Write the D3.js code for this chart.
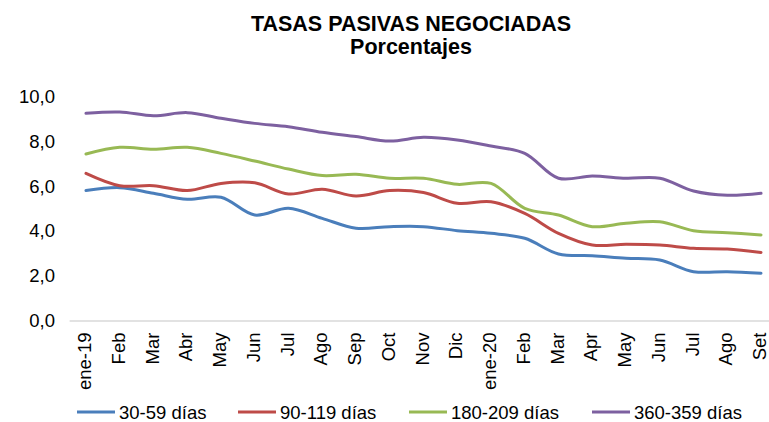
<!DOCTYPE html>
<html>
<head>
<meta charset="utf-8">
<script src="https://cdn.jsdelivr.net/npm/d3@7"></script>
<style>
  html, body { margin: 0; padding: 0; background: #fff; }
  svg { display: block; font-family: "Liberation Sans", Arial, sans-serif; }
</style>
</head>
<body>
<svg id="chart" width="769" height="422"></svg>
<script>
// Meses (ene-2019 a set-2020)
const categories = ["ene-19", "Feb", "Mar", "Abr", "May", "Jun", "Jul", "Ago", "Sep", "Oct", "Nov", "Dic",
                    "ene-20", "Feb ", "Mar ", "Apr", "May ", "Jun ", "Jul ", "Ago ", "Set"];

// Tasas por plazo (%)
const tasa30_59   = [5.80, 5.93, 5.68, 5.41, 5.50, 4.71, 5.01, 4.56, 4.12, 4.19, 4.19, 4.01, 3.89, 3.67, 2.97, 2.89, 2.78, 2.70, 2.18, 2.18, 2.11];
const tasa90_119  = [6.57, 6.02, 6.02, 5.80, 6.12, 6.15, 5.65, 5.86, 5.56, 5.80, 5.71, 5.23, 5.30, 4.78, 3.89, 3.37, 3.40, 3.37, 3.22, 3.19, 3.04];
const tasa180_209 = [7.43, 7.73, 7.64, 7.73, 7.46, 7.12, 6.76, 6.47, 6.53, 6.35, 6.35, 6.08, 6.12, 5.01, 4.71, 4.19, 4.34, 4.41, 4.01, 3.92, 3.82];
const tasa360_359 = [9.25, 9.31, 9.14, 9.28, 9.03, 8.80, 8.65, 8.40, 8.21, 8.01, 8.18, 8.06, 7.79, 7.46, 6.35, 6.45, 6.35, 6.35, 5.78, 5.59, 5.68];

const seriesNames = ["30-59 días", "90-119 días", "180-209 días", "360-359 días"];
const yTicks = [0, 2, 4, 6, 8, 10];

const series = [
  { name: seriesNames[0], values: tasa30_59,   color: "#4A7EBB" },
  { name: seriesNames[1], values: tasa90_119,  color: "#BE4B48" },
  { name: seriesNames[2], values: tasa180_209, color: "#98B954" },
  { name: seriesNames[3], values: tasa360_359, color: "#7D60A0" }
];

const svg = d3.select("#chart");
const locale = d3.formatLocale({ decimal: ",", thousands: ".", grouping: [3], currency: ["", ""] });
const fmt = locale.format(".1f");

const x = d3.scaleBand().domain(categories).range([69.1, 777.9]).paddingInner(0).paddingOuter(0);
const y = d3.scaleLinear().domain([0, 10]).range([320.5, 96.5]);
const cx = d => x(d) + x.bandwidth() / 2;

// Título
svg.append("text").attr("x", 411).attr("y", 31).attr("text-anchor", "middle")
  .attr("font-size", 21.5).attr("font-weight", "bold").attr("fill", "#000")
  .text("TASAS PASIVAS NEGOCIADAS");
svg.append("text").attr("x", 411).attr("y", 54).attr("text-anchor", "middle")
  .attr("font-size", 21.5).attr("font-weight", "bold").attr("fill", "#000")
  .text("Porcentajes");

// Eje Y
const yAxis = svg.append("g").attr("transform", "translate(55,0)")
  .call(d3.axisLeft(y).tickValues(yTicks).tickFormat(fmt).tickSize(0).tickPadding(0));
yAxis.select(".domain").remove();
yAxis.selectAll("text").attr("font-size", 18.5).attr("fill", "#000")
  .attr("font-family", "Liberation Sans, Arial, sans-serif");

// Eje X
const xAxis = svg.append("g").attr("transform", `translate(0,${y(0)})`)
  .call(d3.axisBottom(x).tickSize(0).tickSizeOuter(0).tickFormat(d => d.trim()));
xAxis.select(".domain").attr("stroke", "#D9D9D9").attr("stroke-width", 1.3);
xAxis.selectAll("text")
  .attr("font-size", 18.5).attr("fill", "#000")
  .attr("font-family", "Liberation Sans, Arial, sans-serif")
  .attr("text-anchor", "end")
  .attr("transform", "rotate(-90)")
  .attr("x", -12).attr("y", 0).attr("dy", "0.28em");

// Líneas suavizadas
const line = d3.line()
  .x((d, i) => cx(categories[i]))
  .y(d => y(d))
  .curve(d3.curveCatmullRom.alpha(0.5));

svg.append("g").selectAll("path").data(series).join("path")
  .attr("d", s => line(s.values))
  .attr("fill", "none")
  .attr("stroke", s => s.color)
  .attr("stroke-width", 3)
  .attr("stroke-linecap", "round");

// Leyenda
const legendX = [77, 238, 409, 592];
const legend = svg.append("g").selectAll("g").data(series).join("g")
  .attr("transform", (s, i) => `translate(${legendX[i]},412)`);
legend.append("line").attr("x1", 0).attr("x2", 38).attr("y1", 0).attr("y2", 0)
  .attr("stroke", s => s.color).attr("stroke-width", 3);
legend.append("text").attr("x", 42).attr("y", 6.5)
  .attr("font-size", 18.5).attr("fill", "#000")
  .text(s => s.name);
</script>
</body>
</html>
